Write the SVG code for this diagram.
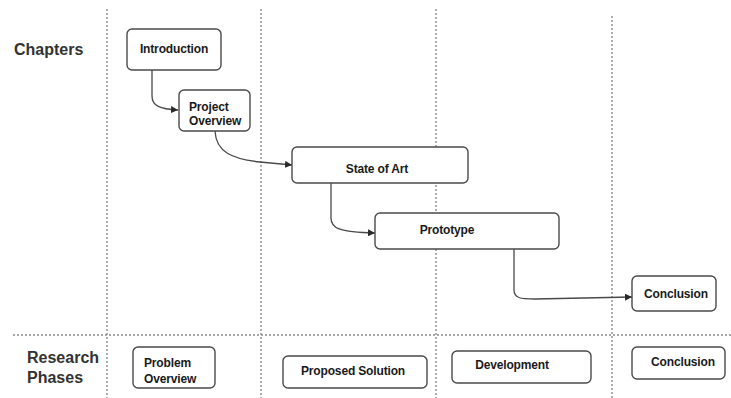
<svg xmlns="http://www.w3.org/2000/svg" width="731" height="398" viewBox="0 0 731 398">
  <style>
    .grid { stroke: #8a8a8a; stroke-width: 1.4; stroke-dasharray: 2 2; fill: none; }
    .box { fill: #ffffff; stroke: #4a4a4a; stroke-width: 1.4; }
    .lbl { font-family: "Liberation Sans", Arial, sans-serif; font-weight: bold; font-size: 12px; fill: #1a1a1a; letter-spacing: -0.15px; }
    .head { font-family: "Liberation Sans", Arial, sans-serif; font-weight: bold; font-size: 16px; fill: #333333; }
    .edge { fill: none; stroke: #4a4a4a; stroke-width: 1.3; marker-end: url(#arrow); }
  </style>
  <defs>
    <marker id="arrow" viewBox="0 0 10 10" refX="10" refY="5" markerWidth="7" markerHeight="7" markerUnits="userSpaceOnUse" orient="auto">
      <path d="M0,0 L10,5 L0,10 Z" fill="#2a2a2a"/>
    </marker>
  </defs>
  <rect width="731" height="398" fill="#ffffff"/>

  <!-- swimlane grid -->
  <g id="grid">
    <line class="grid" x1="107" y1="9" x2="107" y2="398"/>
    <line class="grid" x1="261" y1="9" x2="261" y2="398"/>
    <line class="grid" x1="436" y1="9" x2="436" y2="398"/>
    <line class="grid" x1="612" y1="16" x2="612" y2="398"/>
    <line class="grid" x1="13" y1="335" x2="731" y2="335"/>
  </g>

  <!-- row headings -->
  <g id="row-labels">
    <text class="head" x="14" y="55">Chapters</text>
    <text class="head" x="27" y="363">Research</text>
    <text class="head" x="27" y="383">Phases</text>
  </g>

  <!-- connectors -->
  <g id="connectors">
    <path class="edge" d="M152,70 L152,96 C152,106 160,109 178,110"/>
    <path class="edge" d="M215,131 C216,152 232,159 260,162 L292,165"/>
    <path class="edge" d="M331,183 L331,218 C331,228 338,232 375,233"/>
    <path class="edge" d="M514,249 L514,290 C514,298 520,299 535,299 L632,297"/>
  </g>

  <!-- chapters -->
  <g id="introduction">
    <rect class="box" x="127" y="29" width="94" height="41" rx="5"/>
    <text class="lbl" x="174" y="53" text-anchor="middle">Introduction</text>
  </g>
  <g id="project-overview">
    <rect class="box" x="179" y="90" width="71" height="41" rx="5"/>
    <text class="lbl" x="189" y="111">Project</text>
    <text class="lbl" x="189" y="125">Overview</text>
  </g>
  <g id="state-of-art">
    <rect class="box" x="292" y="147" width="176" height="36" rx="5"/>
    <text class="lbl" x="377" y="173" text-anchor="middle">State of Art</text>
  </g>
  <g id="prototype">
    <rect class="box" x="375" y="213" width="184" height="36" rx="5"/>
    <text class="lbl" x="447" y="234" text-anchor="middle">Prototype</text>
  </g>
  <g id="conclusion">
    <rect class="box" x="632" y="276" width="84" height="35" rx="5"/>
    <text class="lbl" x="676" y="298" text-anchor="middle">Conclusion</text>
  </g>

  <!-- research phases -->
  <g id="problem-overview">
    <rect class="box" x="133" y="347" width="82" height="41" rx="5"/>
    <text class="lbl" x="144" y="367">Problem</text>
    <text class="lbl" x="144" y="383">Overview</text>
  </g>
  <g id="proposed-solution">
    <rect class="box" x="283" y="356" width="144" height="32" rx="5"/>
    <text class="lbl" x="353" y="375" text-anchor="middle">Proposed Solution</text>
  </g>
  <g id="development">
    <rect class="box" x="452" y="351" width="139" height="32" rx="5"/>
    <text class="lbl" x="512" y="369" text-anchor="middle">Development</text>
  </g>
  <g id="conclusion-phase">
    <rect class="box" x="632" y="347" width="93" height="32" rx="5"/>
    <text class="lbl" x="683" y="366" text-anchor="middle">Conclusion</text>
  </g>
</svg>
